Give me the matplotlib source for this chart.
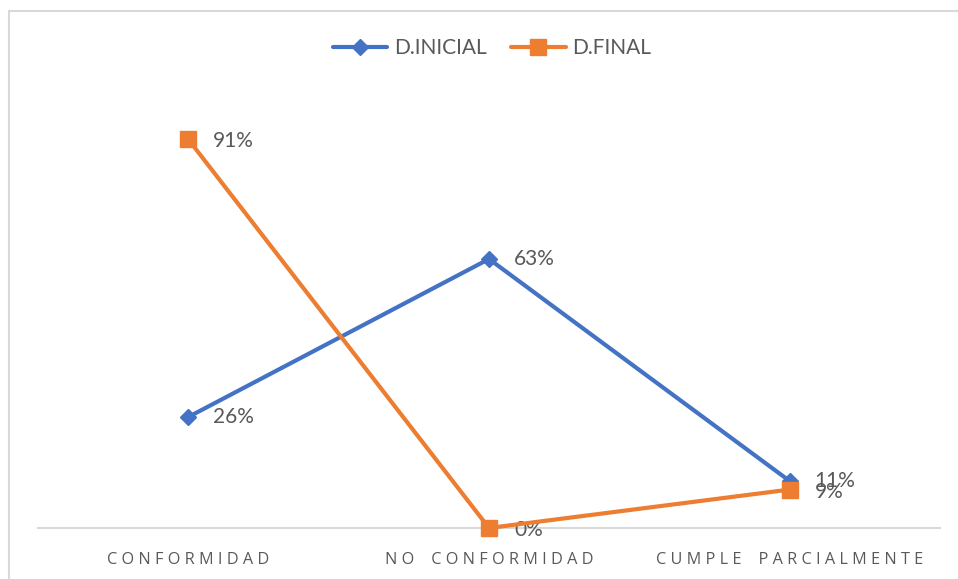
import matplotlib
matplotlib.use("Agg")
import matplotlib.pyplot as plt
from matplotlib.patches import Rectangle

categories = ["CONFORMIDAD", "NO CONFORMIDAD", "CUMPLE PARCIALMENTE"]
inicial = [0.26, 0.63, 0.11]
final = [0.91, 0.00, 0.09]
series_names = ["D.INICIAL", "D.FINAL"]

BLUE = "#4472C4"
ORANGE = "#ED7D31"
GRAY_TXT = "#595959"
GRID = "#D9D9D9"

fig = plt.figure(figsize=(9.58, 5.79), dpi=100)
ax = fig.add_axes([38 / 958, 1 - 528 / 579, 902 / 958, 427 / 579])

x = list(range(len(categories)))
ax.plot(x, inicial, color=BLUE, lw=3, marker="D", ms=8, label=series_names[0],
        solid_capstyle="round", zorder=3, clip_on=False)
ax.plot(x, final, color=ORANGE, lw=3, marker="s", ms=11, label=series_names[1],
        solid_capstyle="round", zorder=4, clip_on=False)

for xi, v in zip(x, inicial):
    ax.annotate(f"{v:.0%}", (xi, v), xytext=(25, 0), textcoords="offset pixels",
                ha="left", va="center", color=GRAY_TXT, fontsize=15, family="Lato")
for xi, v in zip(x, final):
    ax.annotate(f"{v:.0%}", (xi, v), xytext=(25, -2), textcoords="offset pixels",
                ha="left", va="center", color=GRAY_TXT, fontsize=15, family="Lato")

ax.set_xlim(-0.5, 2.5)
ax.set_ylim(0, 1)
ax.set_yticks([])
ax.set_xticks(x)
ax.set_xticklabels([" ".join(c).replace("   ", "    ") for c in categories],
                   color=GRAY_TXT, fontsize=11.7, family="Open Sans")
ax.tick_params(axis="x", length=0, pad=17)
for s in ["top", "right", "left"]:
    ax.spines[s].set_visible(False)
ax.spines["bottom"].set_color(GRID)
ax.spines["bottom"].set_linewidth(1.5)
ax.patch.set_alpha(0)

fig.legend(loc="center", bbox_to_anchor=(492 / 958, 1 - 48 / 579), ncol=2,
           frameon=False, prop={"family": "Lato", "size": 15}, labelcolor=GRAY_TXT,
           handlelength=2.6, columnspacing=1.2, handletextpad=0.3)

fig.patches.append(Rectangle((8.5 / 958, -0.1), 1.2, 1.1 - 10.5 / 579,
                             transform=fig.transFigure, fill=False,
                             edgecolor=GRID, lw=1.5, zorder=0))

fig.savefig("out.png", dpi=100)
